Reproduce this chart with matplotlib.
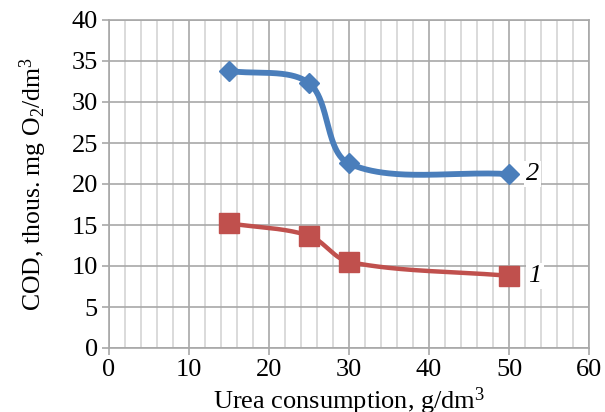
import numpy as np
import matplotlib
matplotlib.use("Agg")
import matplotlib.pyplot as plt

# Data
urea = [15, 25, 30, 50]
cod_series2 = [33.8, 32.3, 22.5, 21.2]   # blue diamonds, label "2"
cod_series1 = [15.2, 13.7, 10.5, 8.8]    # red squares, label "1"
x_ticks = [0, 10, 20, 30, 40, 50, 60]
y_ticks = [0, 5, 10, 15, 20, 25, 30, 35, 40]

plt.rcParams['font.family'] = ['Liberation Serif', 'DejaVu Serif']
plt.rcParams['mathtext.fontset'] = 'custom'
plt.rcParams['mathtext.rm'] = 'Liberation Serif'
plt.rcParams['mathtext.it'] = 'Liberation Serif:italic'


def smooth(ax, xs, ys, n=80, k=1.0 / 3.0):
    """Length-weighted Bezier smoothing in display space (Excel-like)."""
    tr = ax.transData
    P = tr.transform(np.column_stack([xs, ys]).astype(float))
    m = len(P)
    out = []
    for i in range(m - 1):
        p0 = P[i - 1] if i > 0 else P[i]
        p1 = P[i]
        p2 = P[i + 1]
        p3 = P[i + 2] if i + 2 < m else P[i + 1]
        d01 = np.linalg.norm(p1 - p0)
        d12 = np.linalg.norm(p2 - p1)
        d23 = np.linalg.norm(p3 - p2)
        c1 = p1 + (p2 - p0) * k * d12 / (d01 + d12)
        c2 = p2 - (p3 - p1) * k * d12 / (d12 + d23)
        t = np.linspace(0, 1, n)[:, None]
        seg = ((1 - t) ** 3) * p1 + 3 * ((1 - t) ** 2) * t * c1 + 3 * (1 - t) * t ** 2 * c2 + t ** 3 * p2
        out.append(seg if i == 0 else seg[1:])
    out = tr.inverted().transform(np.vstack(out))
    return out[:, 0], out[:, 1]


fig = plt.figure(figsize=(6.05, 4.12), dpi=100)
ax = fig.add_axes([109 / 605, 64 / 412, 480 / 605, 328 / 412])
ax.set_xlim(0, 60)
ax.set_ylim(0, 40)

blue = '#4a7ebb'
red = '#c0504d'

# grid
for v in np.arange(2, 60, 2):
    if v % 10 != 0:
        ax.axvline(v, color='#d4d4d4', lw=1.2, zorder=0)
for v in x_ticks:
    ax.axvline(v, color='#a8a8a8', lw=1.2, zorder=0.5)
for v in y_ticks:
    ax.axhline(v, color='#a8a8a8', lw=1.2, zorder=0.5)

sx, sy = smooth(ax, urea, cod_series2)
ax.plot(sx, sy, color=blue, lw=4.2, solid_capstyle='round', zorder=3)
ax.plot(urea, cod_series2, ls='none', marker='D', ms=10.5, color=blue, zorder=4)

sx, sy = smooth(ax, urea, cod_series1)
ax.plot(sx, sy, color=red, lw=3.2, solid_capstyle='round', zorder=3)
ax.plot(urea, cod_series1, ls='none', marker='s', ms=14, color=red, zorder=4)

ax.annotate('2', (urea[-1], cod_series2[-1]), xytext=(12, 0), textcoords='offset points',
            ha='left', va='center', fontsize=19, style='italic',
            bbox=dict(facecolor='white', edgecolor='none', pad=1.5), zorder=5)
ax.annotate('1', (urea[-1], cod_series1[-1]), xytext=(14, 0), textcoords='offset points',
            ha='left', va='center', fontsize=19, style='italic',
            bbox=dict(facecolor='white', edgecolor='none', pad=1.5), zorder=5)

ax.set_xticks(x_ticks)
ax.set_yticks(y_ticks)
ax.tick_params(axis='both', labelsize=19, length=5, width=1.2, color='#a8a8a8', pad=3)
for s in ax.spines.values():
    s.set_color('#a8a8a8')
    s.set_linewidth(1.2)
ax.set_facecolor('white')

ax.set_xlabel('Urea consumption, g/dm$^3$', fontsize=19, labelpad=3)
ax.set_ylabel('COD, thous. mg O$_2$/dm$^3$', fontsize=18.5, labelpad=16)

fig.savefig('out.png', dpi=100)
